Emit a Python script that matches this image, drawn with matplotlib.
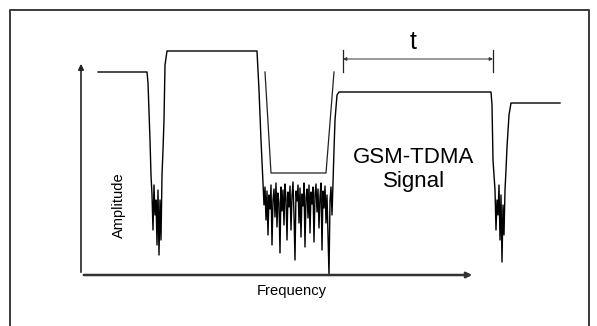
import matplotlib.pyplot as plt

# ejes del esquema: frecuencia (x) y amplitud (y), origen en el cruce de ejes
traza_f = [17, 66, 67, 69, 70, 71, 72, 73, 74, 75, 76, 77, 78, 79, 80, 81, 82, 83, 84, 86,
           176, 178, 180]
traza_a = [203, 203, 192, 135, 100, 80, 45, 90, 60, 75, 30, 85, 20, 75, 35, 100, 125, 155, 210, 224,
           224, 185, 135]

# zona de ruido central (una muestra por unidad de frecuencia)
ruido_f = list(range(182, 253))
ruido_a = [92, 70, 88, 55, 84, 40, 80, 66, 90, 30, 75, 86, 58, 92, 48, 82, 72, 22, 88, 64,
           85, 50, 91, 76, 35, 83, 68, 89, 45, 79, 93, 60, 15, 84, 74, 90, 52, 87, 38, 81,
           69, 92, 28, 77, 86, 57, 90, 42, 83, 71, 88, 33, 80, 91, 63, 86, 47, 78, 92, 25,
           84, 67, 89, 52, 80, 40, 0, 74, 88, 60, 92]

traza2_f = [253, 254, 256, 258, 410, 411, 412, 414, 415, 416, 417, 418, 419, 420, 421, 422,
            423, 424, 425, 426, 428, 430, 479]
traza2_a = [125, 155, 180, 183, 183, 170, 115, 85, 45, 75, 60, 90, 35, 80, 13, 70,
            40, 85, 105, 128, 160, 172, 172]

# mascara trapezoidal
mascara_f = [184, 190, 245, 253]
mascara_a = [203, 102, 102, 203]

# marcador de tiempo t
t_ini, t_fin = 262, 412
t_amp = 216

fig = plt.figure(figsize=(5.97, 3.26), dpi=100)
ax = fig.add_axes([0, 0, 1, 1])
ax.set_xlim(-81, 516)
ax.set_ylim(-51, 275)
ax.axis('off')

# marco
ax.plot([-71, -71, 508, 508], [-60, 265, 265, -60], color='#3a3a3a', lw=1.4, clip_on=False)

# ejes con flecha
ax.annotate('', xy=(0, 214), xytext=(0, 0),
            arrowprops=dict(arrowstyle='-|>', color='#222222', lw=1.2, mutation_scale=8))
ax.annotate('', xy=(394, 0), xytext=(0, 0),
            arrowprops=dict(arrowstyle='-|>', color='#333333', lw=1.8, mutation_scale=8))

# señal
ax.plot(traza_f + ruido_f + traza2_f, traza_a + ruido_a + traza2_a, color='black', lw=1.0)
ax.plot(mascara_f, mascara_a, color='#222222', lw=0.9)

# marcador t
ax.plot([t_ini, t_ini], [203, 225], color='#222222', lw=0.9)
ax.plot([t_fin, t_fin], [203, 225], color='#222222', lw=0.9)
ax.annotate('', xy=(t_ini, t_amp), xytext=(t_fin, t_amp),
            arrowprops=dict(arrowstyle='<|-|>', color='#333333', lw=0.7, mutation_scale=5,
                            shrinkA=0, shrinkB=0))

fam = 'Liberation Sans'
ax.text(332, 233, 't', fontsize=18, ha='center', va='center', family=fam)
ax.text(333, 112, 'GSM-TDMA', fontsize=16, ha='center', va='baseline', family=fam)
ax.text(333, 88, 'Signal', fontsize=16, ha='center', va='baseline', family=fam)
ax.text(211, -20, 'Frequency', fontsize=10.6, ha='center', va='baseline', family=fam)
ax.text(38, 70, 'Amplitude', fontsize=10.5, ha='center', va='center', rotation=90, family=fam)

fig.savefig('out.png', dpi=100)
